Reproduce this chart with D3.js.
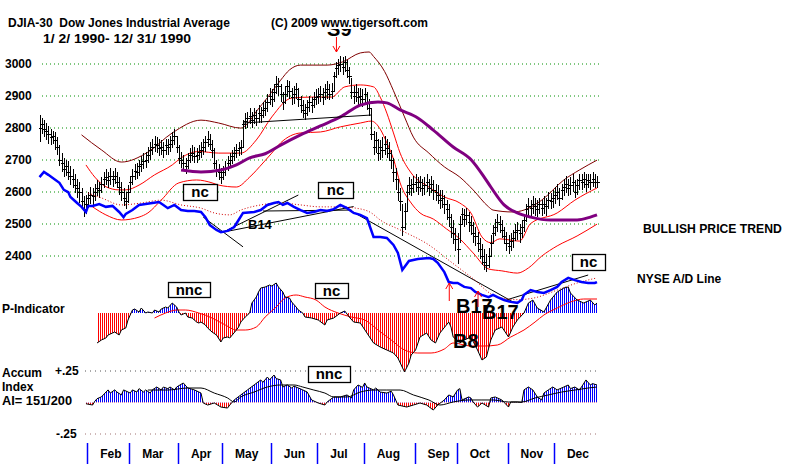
<!DOCTYPE html>
<html>
<head>
<meta charset="utf-8">
<script src="https://cdnjs.cloudflare.com/ajax/libs/d3/7.8.5/d3.min.js"></script>
<style>
  body { margin: 0; background: #fff; }
  svg { display: block; }
  text { font-family: "Liberation Sans", Arial, sans-serif; font-weight: bold; fill: #000; white-space: pre; }
</style>
</head>
<body>
<svg id="chart" width="800" height="467"></svg>
<script>
// month labels and the trading-day index where each month starts
const months = ["Feb", "Mar", "Apr", "May", "Jun", "Jul", "Aug", "Sep", "Oct", "Nov", "Dec"]
const monthStart = [22, 41, 63, 83, 105, 126, 147, 170, 189, 212, 233]
const priceTicks = [3000, 2900, 2800, 2700, 2600, 2500, 2400]

// daily DJIA bars 1990: [high, low, close]
const bars = [
  [2840,2755,2800],[2830,2780,2810],[2825,2770,2795],[2815,2760,2790],[2805,2750,2780],
  [2795,2745,2770],[2790,2750,2775],[2785,2730,2760],[2770,2715,2740],[2745,2680,2700],
  [2720,2660,2690],[2705,2645,2670],[2700,2650,2680],[2695,2635,2660],[2680,2620,2650],
  [2670,2610,2640],[2655,2595,2620],[2640,2580,2610],[2630,2565,2600],[2610,2545,2570],
  [2585,2520,2545],[2590,2530,2560],
  [2600,2550,2580],[2615,2560,2590],[2610,2555,2585],[2625,2570,2600],[2635,2585,2610],
  [2630,2580,2605],[2645,2595,2625],[2660,2610,2640],[2670,2620,2645],[2660,2610,2635],
  [2675,2620,2650],[2665,2615,2640],[2675,2625,2650],[2660,2610,2630],[2645,2590,2615],
  [2630,2570,2600],[2610,2555,2580],[2600,2545,2570],[2620,2565,2600],
  [2650,2600,2630],[2670,2620,2650],[2685,2635,2665],[2690,2640,2660],[2700,2650,2680],
  [2710,2660,2685],[2720,2670,2695],[2725,2675,2700],[2740,2690,2715],[2755,2700,2730],
  [2765,2715,2740],[2775,2725,2750],[2770,2720,2745],[2765,2710,2735],[2760,2715,2740],
  [2755,2705,2730],[2765,2715,2745],[2765,2715,2740],[2775,2725,2750],[2785,2735,2760],
  [2795,2745,2775],[2775,2720,2740],
  [2745,2685,2705],[2725,2675,2700],[2715,2665,2690],[2705,2655,2680],[2720,2670,2700],
  [2735,2690,2715],[2745,2695,2720],[2740,2690,2710],[2735,2690,2715],[2745,2700,2725],
  [2755,2705,2730],[2765,2715,2740],[2775,2725,2755],[2790,2740,2765],[2780,2730,2750],
  [2760,2705,2730],[2735,2670,2690],[2700,2645,2665],[2685,2635,2660],[2675,2625,2645],
  [2680,2635,2660],[2695,2650,2675],[2710,2665,2690],[2720,2675,2700],[2730,2685,2710],
  [2740,2695,2720],[2750,2705,2730],[2755,2710,2735],[2760,2715,2740],[2825,2740,2810],
  [2845,2795,2820],[2850,2800,2830],[2860,2810,2835],[2850,2800,2825],[2860,2810,2840],
  [2855,2805,2830],[2870,2815,2845],[2865,2815,2840],[2880,2830,2855],[2885,2835,2860],
  [2905,2850,2880],[2925,2870,2900],
  [2920,2865,2890],[2935,2880,2910],[2960,2905,2935],[2955,2900,2930],[2935,2880,2905],
  [2910,2855,2880],[2930,2875,2905],[2950,2895,2930],[2945,2890,2915],[2925,2870,2895],
  [2930,2875,2905],[2940,2890,2920],[2925,2865,2890],[2900,2845,2870],[2885,2830,2855],
  [2875,2825,2845],[2885,2835,2865],[2900,2850,2880],[2895,2845,2870],[2910,2860,2890],
  [2920,2870,2895],
  [2925,2875,2900],[2930,2880,2905],[2925,2870,2895],[2935,2885,2910],[2945,2890,2920],
  [2935,2885,2905],[2940,2890,2915],[2975,2910,2960],[3005,2955,2985],[3015,2965,2995],
  [3025,2975,3000],[3020,2965,2990],[3025,2975,3005],[3010,2955,2980],[2990,2935,2960],
  [2955,2890,2910],[2930,2875,2900],[2935,2880,2910],[2925,2870,2895],[2925,2870,2900],
  [2920,2865,2890],
  [2925,2875,2905],[2910,2855,2880],[2890,2835,2860],[2860,2760,2780],[2790,2715,2740],
  [2785,2720,2760],[2765,2695,2720],[2760,2700,2740],[2770,2705,2730],[2775,2715,2750],
  [2765,2705,2735],[2755,2695,2720],[2730,2670,2700],[2705,2630,2660],[2675,2605,2640],
  [2640,2570,2600],[2610,2540,2570],[2560,2460,2490],[2565,2480,2540],[2620,2540,2600],
  [2645,2590,2620],[2640,2585,2610],[2650,2595,2625],
  [2655,2600,2630],[2645,2590,2615],[2650,2600,2630],[2640,2585,2610],[2645,2590,2620],
  [2655,2600,2630],[2640,2585,2610],[2650,2595,2625],[2635,2575,2605],[2625,2570,2600],
  [2620,2560,2590],[2605,2545,2575],[2605,2550,2580],[2590,2530,2560],[2575,2510,2545],
  [2560,2490,2520],[2530,2455,2490],[2510,2435,2470],[2485,2415,2450],
  [2470,2375,2420],[2525,2440,2500],[2550,2495,2530],[2545,2490,2515],[2550,2495,2525],
  [2535,2475,2505],[2525,2465,2495],[2505,2440,2470],[2490,2430,2460],[2475,2410,2440],
  [2455,2390,2420],[2435,2370,2400],[2420,2355,2380],[2405,2350,2370],[2425,2360,2400],
  [2465,2400,2440],[2495,2435,2470],[2515,2460,2490],[2530,2475,2505],[2525,2470,2500],
  [2510,2455,2480],[2490,2435,2460],[2475,2415,2440],
  [2465,2405,2430],[2470,2415,2445],[2480,2425,2455],[2500,2445,2475],[2505,2450,2480],
  [2500,2440,2470],[2510,2455,2490],[2530,2475,2510],[2560,2505,2545],[2580,2525,2555],
  [2575,2520,2550],[2585,2530,2560],[2580,2525,2555],[2575,2520,2545],[2580,2530,2560],
  [2575,2525,2550],[2585,2530,2560],[2580,2525,2555],[2600,2545,2575],[2595,2545,2570],
  [2605,2550,2580],
  [2615,2560,2590],[2625,2575,2600],[2610,2555,2580],[2625,2575,2605],[2640,2585,2615],
  [2650,2595,2625],[2640,2585,2610],[2645,2590,2620],[2655,2600,2630],[2635,2580,2600],
  [2640,2590,2620],[2655,2605,2635],[2655,2605,2630],[2660,2610,2640],[2655,2600,2625],
  [2655,2610,2635],[2655,2605,2630],[2660,2615,2640],[2655,2610,2630],[2650,2610,2630]
]

// price bands and moving average: [day, level]
const upperBand = [[19,2777],[28,2730],[37,2692],[49,2723],[60,2783],[73,2823],[81,2814],[91,2798],
  [94,2812],[98,2850],[103,2893],[109,2948],[113,2980],[118,2995],[130,2995],[137,3005],[145,3033],
  [149,3036],[151,3022],[156,2975],[160,2915],[165,2833],[169,2770],[176,2720],[183,2677],[190,2645],
  [196,2605],[203,2552],[205,2542],[214,2536],[219,2542],[227,2573],[237,2636],[244,2667],[252,2698]]
const midBand = [[21,2683],[25,2645],[30,2615],[36,2605],[39,2605],[45,2620],[52,2652],[60,2683],
  [64,2705],[72,2725],[81,2720],[91,2720],[98,2761],[105,2833],[114,2892],[123,2895],[132,2895],
  [138,2927],[145,2933],[151,2927],[154,2895],[157,2845],[160,2783],[163,2720],[168,2658],[176,2614],
  [183,2583],[190,2564],[195,2533],[200,2458],[204,2440],[208,2452],[217,2445],[222,2500],[234,2533],
  [242,2573],[252,2611]]
const lowerBand = [[24,2552],[30,2527],[37,2511],[45,2520],[49,2533],[55,2573],[63,2627],[71,2636],
  [78,2627],[81,2620],[89,2614],[95,2645],[101,2689],[105,2720],[109,2752],[118,2783],[127,2786],
  [136,2802],[145,2814],[150,2820],[154,2795],[157,2752],[160,2702],[163,2627],[168,2564],[172,2533],
  [178,2514],[184,2483],[190,2452],[196,2408],[203,2358],[209,2352],[216,2345],[221,2361],[227,2398],
  [234,2430],[243,2461],[252,2498]]
const movingAvg = [[64,2667],[73,2661],[82,2667],[89,2683],[95,2705],[102,2718],[109,2745],[118,2777],
  [127,2805],[136,2833],[145,2870],[153,2880],[157,2877],[163,2855],[171,2830],[178,2792],[187,2739],
  [195,2700],[201,2645],[204,2614],[210,2558],[216,2533],[222,2520],[231,2511],[243,2511],[249,2520],
  [252,2527]]

// NYSE A/D line and its average, drawn on the price scale
const adLine = [[0,2645],[2,2661],[4,2652],[6,2642],[9,2627],[11,2605],[13,2598],[14,2583],[17,2564],
  [19,2552],[21,2536],[22,2555],[24,2555],[27,2561],[30,2552],[33,2555],[36,2536],[38,2520],[39,2530],
  [42,2542],[45,2558],[48,2561],[51,2564],[54,2567],[56,2558],[58,2548],[61,2558],[64,2542],[67,2539],
  [70,2539],[73,2536],[75,2520],[77,2495],[80,2480],[82,2473],[85,2477],[88,2489],[90,2511],[92,2533],
  [97,2536],[100,2542],[103,2558],[106,2564],[108,2567],[110,2558],[112,2564],[115,2552],[118,2542],
  [121,2533],[124,2536],[127,2542],[130,2539],[133,2545],[136,2558],[139,2548],[142,2533],[145,2527],
  [148,2517],[151,2458],[154,2458],[157,2455],[160,2433],[162,2408],[164,2355],[167,2383],[171,2389],
  [176,2392],[178,2389],[180,2377],[183,2348],[185,2317],[187,2314],[189,2314],[192,2302],[195,2298],
  [197,2286],[200,2277],[203,2270],[205,2277],[207,2270],[210,2261],[213,2255],[216,2252],[218,2261],
  [219,2277],[222,2292],[225,2286],[228,2283],[231,2292],[234,2302],[236,2317],[239,2330],[242,2323],
  [245,2317],[248,2314],[251,2314],[252,2317]]
const adAvg = [[22,2595],[28,2580],[37,2558],[46,2564],[55,2573],[64,2558],[73,2548],[79,2533],
  [86,2527],[91,2542],[100,2558],[109,2564],[118,2558],[127,2552],[136,2552],[143,2548],[150,2533],
  [154,2511],[163,2480],[176,2433],[186,2380],[195,2333],[207,2270],[216,2262],[224,2268],[234,2292],
  [243,2314],[252,2330]]

// P-Indicator and its average
const pInd = [[26,-60],[28,-54],[30,-50],[31,-44],[33,-40],[34,-38],[36,-44],[37,-34],[39,-30],[40,-14],
  [42,6],[43,8],[45,2],[46,10],[48,0],[49,2],[51,0],[52,6],[54,2],[55,8],[57,12],[58,10],[60,20],
  [62,12],[63,2],[64,-4],[66,0],[67,-8],[69,-10],[71,-18],[72,-20],[73,-18],[75,-24],[76,-30],[78,-38],
  [80,-44],[82,-58],[83,-50],[85,-48],[86,-50],[89,-34],[90,-28],[91,-18],[93,-8],[95,0],[96,20],
  [98,32],[99,42],[100,50],[102,52],[104,56],[105,54],[107,60],[108,52],[110,42],[111,32],[113,30],
  [114,22],[116,12],[117,6],[119,0],[120,-8],[123,-10],[126,-14],[129,-24],[130,-14],[133,-10],[136,0],
  [138,4],[140,-8],[142,-18],[145,-20],[148,-40],[151,-60],[154,-68],[157,-74],[160,-80],[162,-90],
  [165,-118],[167,-100],[168,-84],[170,-74],[172,-48],[175,-40],[177,-54],[179,-60],[181,-40],
  [185,-18],[186,-28],[187,-48],[190,-60],[192,-54],[195,-48],[198,-74],[200,-94],[202,-88],[204,-54],
  [206,-34],[209,-28],[212,-48],[214,-28],[216,-14],[219,0],[221,20],[223,26],[225,10],[228,2],
  [231,26],[234,42],[237,50],[239,52],[240,40],[243,26],[246,20],[249,26],[251,16],[252,20]]
const pAvg = [[52,-10],[57,0],[62,6],[66,6],[72,0],[78,-10],[84,-24],[89,-34],[93,-34],[98,-28],
  [102,-8],[107,12],[111,30],[116,36],[120,32],[125,26],[129,12],[135,0],[141,-8],[147,-14],[153,-34],
  [159,-54],[165,-74],[171,-80],[177,-80],[183,-72],[187,-60],[195,-66],[201,-66],[207,-64],[213,-48],
  [219,-34],[224,-18],[228,-4],[234,10],[240,22],[246,28],[252,28]]

// Accumulation Index and its average
const accum = [[21,-0.01],[24,-0.02],[25,0.01],[26,0.03],[28,0.045],[31,0.1],[32,0.075],[34,0.1],
  [35,0.083],[37,0.06],[38,0.1],[41,0.075],[42,0.1],[44,0.083],[45,0.11],[47,0.083],[48,0.1],[50,0.075],
  [51,0.1],[53,0.123],[55,0.1],[56,0.123],[58,0.11],[59,0.123],[61,0.1],[62,0.123],[65,0.155],
  [67,0.115],[70,0.1],[73,0.075],[74,-0.004],[76,-0.02],[79,-0.004],[82,-0.036],[85,-0.044],[86,-0.02],
  [88,0.02],[91,0.06],[94,0.1],[97,0.139],[100,0.179],[101,0.16],[103,0.202],[104,0.18],[106,0.218],
  [107,0.19],[109,0.179],[110,0.123],[112,0.14],[114,0.115],[115,0.13],[117,0.115],[119,0.1],
  [121,0.083],[123,0.02],[126,-0.004],[129,-0.02],[130,0.004],[133,0.044],[136,0.044],[139,0.06],
  [141,0.036],[142,0.1],[144,0.139],[146,0.12],[147,0.155],[148,0.123],[151,0.1],[152,0.115],
  [154,0.083],[157,0.075],[159,0.09],[160,0.06],[162,-0.02],[166,-0.036],[169,-0.02],[172,-0.004],
  [175,-0.02],[178,-0.06],[180,-0.02],[183,0.02],[185,0.06],[187,0.044],[189,0.1],[190,0.11],[191,0.02],
  [194,0.044],[195,0.036],[196,0.004],[198,-0.036],[200,-0.004],[203,-0.036],[204,0.036],[206,0.044],
  [209,0.02],[212,-0.036],[213,0.004],[216,0.004],[218,0.0],[219,0.1],[221,0.123],[223,0.1],[225,0.044],
  [227,0.02],[228,0.075],[230,0.1],[232,0.123],[234,0.1],[237,0.123],[239,0.139],[240,0.11],[242,0.123],
  [244,0.1],[245,0.123],[247,0.179],[249,0.139],[250,0.15],[252,0.139]]
const accumAvg = [[49,0.099],[58,0.099],[67,0.115],[73,0.115],[79,0.075],[85,0.036],[88,0.004],
  [91,0.044],[97,0.083],[103,0.123],[109,0.139],[115,0.139],[119,0.123],[124,0.099],[129,0.075],
  [133,0.044],[139,0.044],[145,0.083],[151,0.099],[157,0.099],[163,0.099],[169,0.06],[176,0.02],
  [181,-0.02],[187,0.004],[194,0.02],[200,0.02],[205,0.02],[212,0.004],[218,0.004],[224,0.036],
  [230,0.06],[236,0.083],[242,0.099],[248,0.115],[252,0.123]]

// hand-drawn trend lines: [day, level] pairs on the price scale
const trendLines = [
  [[92, 2814], [150, 2839]],
  [[74, 2520], [92, 2427]],
  [[83, 2473], [117, 2589]],
  [[83, 2473], [142, 2553]],
  [[101, 2539], [141, 2542]],
  [[136, 2558], [214, 2255]],
  [[211, 2261], [248, 2339]]
]

const svg = d3.select("#chart")
const defs = svg.append("defs")

const x = d3.scaleLinear().domain([0, bars.length - 1]).range([39.5, 597])
const y = d3.scaleLinear().domain([2400, 3000]).range([255.5, 63.5])
const pY = d3.scaleLinear().domain([0, 100]).range([313, 263])
const aY = d3.scaleLinear().domain([-0.25, 0.25]).range([434, 371])

const lineOn = (ys, curve) =>
  d3.line().x((d) => x(d[0])).y((d) => ys(d[1])).curve(curve || d3.curveLinear)

// stripe patterns for the histograms
const stripe = (id, color) => {
  const p = defs.append("pattern").attr("id", id)
    .attr("patternUnits", "userSpaceOnUse").attr("width", 2).attr("height", 8)
  p.append("rect").attr("width", 1).attr("height", 8).attr("fill", color)
}
stripe("blueStripe", "#0000ff")
stripe("redStripe", "#ff0000")

const clip = (id, y0, y1) => {
  defs.append("clipPath").attr("id", id).append("rect")
    .attr("x", 0).attr("y", y0).attr("width", 800).attr("height", y1 - y0)
}
clip("pUp", 240, pY(0))
clip("pDown", pY(0), 420)
clip("aUp", 355, aY(0))
clip("aDown", aY(0), 445)

// grid lines for the price panel
svg.append("g").selectAll("line").data(priceTicks).enter().append("line")
  .attr("x1", 42).attr("x2", 600)
  .attr("y1", (d) => y(d) + 0.5).attr("y2", (d) => y(d) + 0.5)
  .attr("stroke", "#009000").attr("stroke-dasharray", "1,3")

svg.append("g").selectAll("text").data(priceTicks).enter().append("text")
  .attr("x", 5).attr("y", (d) => y(d) + 4.5)
  .attr("font-size", 12).text((d) => d)

// bands
svg.append("path").attr("d", lineOn(y, d3.curveMonotoneX)(upperBand))
  .attr("fill", "none").attr("stroke", "#800000").attr("stroke-width", 1)
svg.append("path").attr("d", lineOn(y, d3.curveMonotoneX)(midBand))
  .attr("fill", "none").attr("stroke", "#ff0000").attr("stroke-width", 1)
svg.append("path").attr("d", lineOn(y, d3.curveMonotoneX)(lowerBand))
  .attr("fill", "none").attr("stroke", "#ff0000").attr("stroke-width", 1)

// price bars
const barG = svg.append("g").attr("stroke", "#000").attr("shape-rendering", "crispEdges")
bars.forEach((b, i) => {
  const bx = Math.round(x(i)) + 0.5
  barG.append("line").attr("x1", bx).attr("x2", bx).attr("y1", y(b[0])).attr("y2", y(b[1]))
  barG.append("line").attr("x1", bx - 1.5).attr("x2", bx + 2)
    .attr("y1", Math.round(y(b[2])) + 0.5).attr("y2", Math.round(y(b[2])) + 0.5)
})

// purple moving average
svg.append("path").attr("d", lineOn(y, d3.curveMonotoneX)(movingAvg))
  .attr("fill", "none").attr("stroke", "#800080").attr("stroke-width", 3)

// trend lines
svg.append("g").selectAll("path").data(trendLines).enter().append("path")
  .attr("d", (d) => lineOn(y)(d)).attr("fill", "none").attr("stroke", "#000").attr("stroke-width", 1)

// A/D line
svg.append("path").attr("d", lineOn(y, d3.curveMonotoneX)(adAvg))
  .attr("fill", "none").attr("stroke", "#d00000").attr("stroke-width", 1).attr("stroke-dasharray", "1,2")
svg.append("path").attr("d", lineOn(y)(adLine))
  .attr("fill", "none").attr("stroke", "#0000ff").attr("stroke-width", 2.5)

// histogram helper
const histogram = (data, ys, up, down) => {
  const area = d3.area().x((d) => x(d[0])).y0(ys(0)).y1((d) => ys(d[1]))
  svg.append("path").attr("d", area(data)).attr("fill", "url(#blueStripe)").attr("clip-path", `url(#${up})`)
  svg.append("path").attr("d", area(data)).attr("fill", "url(#redStripe)").attr("clip-path", `url(#${down})`)
}

// P-Indicator
histogram(pInd, pY, "pUp", "pDown")
svg.append("path").attr("d", lineOn(pY, d3.curveMonotoneX)(pAvg))
  .attr("fill", "none").attr("stroke", "#ff0000").attr("stroke-width", 1)
svg.append("path").attr("d", lineOn(pY)(pInd))
  .attr("fill", "none").attr("stroke", "#000").attr("stroke-width", 1)

// Accumulation Index
svg.append("line").attr("x1", 85).attr("x2", 600).attr("y1", aY(0.25)).attr("y2", aY(0.25))
  .attr("stroke", "#555").attr("stroke-dasharray", "1,4")
svg.append("line").attr("x1", 85).attr("x2", 600).attr("y1", aY(-0.25)).attr("y2", aY(-0.25))
  .attr("stroke", "#a07070").attr("stroke-dasharray", "1,4")
histogram(accum, aY, "aUp", "aDown")
svg.append("path").attr("d", lineOn(aY, d3.curveMonotoneX)(accumAvg))
  .attr("fill", "none").attr("stroke", "#000").attr("stroke-width", 1)
svg.append("path").attr("d", lineOn(aY)(accum))
  .attr("fill", "none").attr("stroke", "#000").attr("stroke-width", 1)

// month ticks and labels
const mG = svg.append("g")
mG.selectAll("line").data(monthStart).enter().append("line")
  .attr("x1", (d) => Math.round(x(d)) - 0.5).attr("x2", (d) => Math.round(x(d)) - 0.5)
  .attr("y1", 443).attr("y2", 464).attr("stroke", "#0000ff").attr("stroke-width", 1.5)
mG.selectAll("text").data(months).enter().append("text")
  .attr("x", (d, i) => x(monthStart[i]) + 12).attr("y", 458)
  .attr("font-size", 12).text((d) => d)

// titles (S9 sits under the copyright line)
svg.append("text").attr("x", x(130) + 0).attr("y", 36).attr("font-size", 20).text("S9")
svg.append("rect").attr("x", 268).attr("y", 15).attr("width", 164).attr("height", 14).attr("fill", "#fff")
svg.append("text").attr("x", 8).attr("y", 27).attr("font-size", 12).text("DJIA-30  Dow Jones Industrial Average")
svg.append("text").attr("x", 271).attr("y", 27).attr("font-size", 12).text("(C) 2009 www.tigersoft.com")
svg.append("text").attr("x", 43).attr("y", 43).attr("font-size", 12.5)
  .attr("textLength", 148).attr("lengthAdjust", "spacingAndGlyphs").text("1/ 2/ 1990- 12/ 31/ 1990")

// arrows
const arrow = (ax, y0, y1) => {
  const dir = y1 > y0 ? 1 : -1
  svg.append("line").attr("x1", ax).attr("x2", ax).attr("y1", y0).attr("y2", y1)
    .attr("stroke", "#ff0000").attr("stroke-width", 1)
  svg.append("path").attr("d", `M${ax - 3.5},${y1 - dir * 6}L${ax},${y1}L${ax + 3.5},${y1 - dir * 6}`)
    .attr("fill", "none").attr("stroke", "#ff0000").attr("stroke-width", 1)
}
arrow(x(134) + 0.5, 37, 52)

// signal labels
svg.append("text").attr("x", 456).attr("y", 313).attr("font-size", 20).text("B17")
svg.append("text").attr("x", 482).attr("y", 319).attr("font-size", 20).text("B17")
svg.append("text").attr("x", 453).attr("y", 348).attr("font-size", 20).text("B8")
arrow(x(185) + 0.5, 301, 283)
arrow(x(198) + 0.5, 307, 291)
svg.append("text").attr("x", 248).attr("y", 229).attr("font-size", 13).text("B14")

// boxed notes
const box = (bx, by, w, h, label) => {
  svg.append("rect").attr("x", bx + 0.5).attr("y", by + 0.5).attr("width", w).attr("height", h)
    .attr("fill", "#fff").attr("stroke", "#000").attr("stroke-width", 1.3)
  svg.append("text").attr("x", bx + w / 2).attr("y", by + h / 2 + 5).attr("text-anchor", "middle")
    .attr("font-size", 15).text(label)
}
box(183, 184, 34, 16, "nc")
box(318, 182, 35, 16, "nc")
box(572, 254, 33, 16, "nc")
box(168, 282, 42, 15, "nnc")
box(315, 283, 33, 15, "nc")
box(308, 366, 42, 16, "nnc")

// side labels
svg.append("text").attr("x", 643).attr("y", 233).attr("font-size", 12.2).text("BULLISH PRICE TREND")
svg.append("text").attr("x", 637).attr("y", 283).attr("font-size", 12).text("NYSE A/D Line")
svg.append("text").attr("x", 2).attr("y", 313).attr("font-size", 12).text("P-Indicator")
svg.append("text").attr("x", 2).attr("y", 377).attr("font-size", 12).text("Accum")
svg.append("text").attr("x", 2).attr("y", 391).attr("font-size", 12).text("Index")
svg.append("text").attr("x", 2).attr("y", 405).attr("font-size", 12)
  .attr("textLength", 70).attr("lengthAdjust", "spacingAndGlyphs").text("AI= 151/200")
svg.append("text").attr("x", 55).attr("y", 375).attr("font-size", 12).text("+.25")
svg.append("text").attr("x", 56).attr("y", 438).attr("font-size", 12).text("-.25")
</script>
</body>
</html>
